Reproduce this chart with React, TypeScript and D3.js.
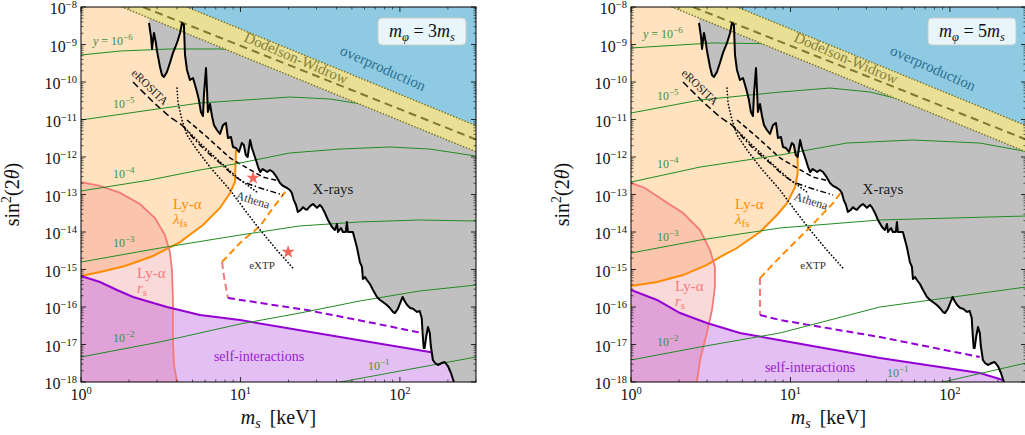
import React from "react";
import * as d3 from "d3";

type Pt = [number, number];

// ---------- axes ----------
const massRange: [number, number] = [1, 300];
const mixingRange: [number, number] = [1e-18, 1e-8];
const yTickExponents = [-8, -9, -10, -11, -12, -13, -14, -15, -16, -17, -18];
const xTickExponents = [0, 1, 2];

// ---------- shared data (m_s [keV], sin^2 2theta) ----------
const xrayBound: Pt[] = [
  [2.67, 3.74e-9], [2.75, 1.58e-9], [2.79, 7.6e-10], [2.83, 1.32e-9], [2.87, 2.03e-9], [2.95, 1.1e-9], [2.99, 7.1e-10],
  [3.13, 2.51e-10], [3.22, 1.54e-10], [3.31, 1.36e-10], [3.46, 1.85e-10], [3.61, 3.2e-10], [3.77, 5.9e-10], [4.0, 1.1e-9],
  [4.18, 2.03e-9], [4.3, 3.74e-9], [4.42, 3.31e-9], [4.49, 5.25e-10], [4.62, 2.09e-10], [4.82, 1.13e-10], [5.04, 1.28e-10],
  [5.19, 8.3e-11], [5.34, 5.4e-11], [5.49, 3.3e-11], [5.65, 1.58e-11], [5.82, 1.24e-11], [5.9, 4.5e-11], [6.08, 2.36e-10],
  [6.17, 6.1e-11], [6.25, 1.58e-11], [6.44, 2.59e-11], [6.63, 1.24e-11], [6.82, 7.1e-12], [7.12, 5.25e-12], [7.44, 4.1e-12],
  [7.77, 7.1e-12], [8.11, 8.1e-12], [8.35, 3.2e-12], [8.72, 3.4e-12], [8.98, 1.85e-12], [9.37, 1.74e-12], [9.79, 1.36e-12],
  [10.2, 2.36e-12], [10.5, 2.09e-12], [10.8, 1.13e-12], [11.1, 1.0e-12], [11.5, 2.84e-12], [11.8, 1.74e-12], [12.2, 1.13e-12],
  [12.5, 8.3e-13], [12.9, 5.4e-13], [13.3, 3.98e-13], [13.8, 4.8e-13], [14.7, 3.98e-13], [15.3, 4.5e-13], [16.0, 3.98e-13],
  [16.7, 3.1e-13], [17.7, 2.03e-13], [18.5, 1.69e-13], [19.6, 1.49e-13], [20.4, 1.32e-13], [21.0, 1.1e-13], [21.6, 7.1e-14],
  [22.3, 5.25e-14], [22.9, 3.4e-14], [23.9, 3.9e-14], [24.7, 4.6e-14], [25.4, 4.1e-14], [26.1, 3.9e-14], [27.3, 4.9e-14],
  [28.5, 5.6e-14], [30.2, 4.4e-14], [31.5, 5.25e-14], [32.4, 4.6e-14], [33.9, 3.2e-14], [35.4, 2.09e-14], [37.5, 1.36e-14],
  [39.1, 1.13e-14], [40.3, 1.63e-14], [40.9, 1.0e-14], [42.7, 1.28e-14], [43.9, 1.0e-14], [45.8, 1.0e-14], [46.5, 1.85e-14],
  [47.2, 1.0e-14], [50.7, 1.0e-14], [53.7, 3.98e-15], [56.1, 1.58e-15], [57.8, 1.17e-15], [58.6, 5.6e-16], [60.4, 6.3e-16],
  [62.1, 5.25e-16], [64.9, 4.1e-16], [67.8, 2.84e-16], [71.8, 1.85e-16], [75.0, 1.54e-16], [78.2, 1.36e-16], [82.8, 1.13e-16],
  [86.5, 9.4e-17], [90.4, 7.4e-17], [93.0, 6.9e-17], [97.1, 8.9e-17], [101, 1.36e-16], [104, 1.85e-16], [107, 1.45e-16],
  [111, 1.13e-16], [116, 9.4e-17], [121, 9.0e-17], [128, 7.4e-17], [133, 7.8e-17], [137, 5.1e-17], [139, 1.79e-17],
  [141, 8.1e-18], [143, 8.1e-18], [146, 1.58e-17], [150, 2.93e-17], [154, 2.03e-17], [156, 9.7e-18], [161, 3.86e-18],
  [166, 3.21e-18], [173, 2.84e-18], [183, 3.21e-18], [191, 3.41e-18], [200, 2.67e-18], [209, 1.74e-18], [218, 1.0e-18],
];
const dwUpper: Pt[] = [[4.62, 1e-8], [300, 6.9e-12]];
const dwCentral: Pt[] = [[2.45, 1e-8], [300, 2.93e-12]];
const dwLower: Pt[] = [[1.81, 1e-8], [300, 1.38e-12]];

const eRosita: Pt[] = [[2.12, 1e-10], [2.83, 2.93e-11], [3.61, 1.17e-11], [4.3, 7.1e-12]];
const eRositaDeep: Pt[] = [[4.62, 9.7e-12], [6.17, 3.41e-12], [8.6, 9.4e-13], [11.0, 5.1e-13], [13.8, 2.93e-13], [19.6, 2.03e-13]];
const athena: Pt[] = [[4.3, 7.1e-12], [5.19, 2.84e-12], [6.17, 1.36e-12], [7.44, 6.9e-13], [8.98, 3.31e-13], [10.4, 2.15e-13], [13.3, 1.49e-13], [18.5, 9.7e-14]];
const extp: Pt[] = [[4.0, 6.9e-11], [4.06, 2.75e-11], [4.3, 9.7e-12], [4.62, 3.86e-12], [5.34, 1.54e-12], [6.44, 5.4e-13], [8.6, 1.32e-13], [11.0, 3.21e-14], [13.3, 1.13e-14], [16.9, 3.31e-15], [21.3, 1.1e-15]];
const extpAlt: Pt[] = [[4.49, 5.9e-12], [5.57, 2.36e-12], [7.23, 8.3e-13], [9.64, 2.75e-13], [12.9, 1.1e-13]];

// ---------- left panel (m_phi = 3 m_s) ----------
const lfsLeft: Pt[] = [[1, 6.7e-16], [1.315, 8.6e-16], [1.89, 1.24e-15], [2.83, 2.29e-15], [4.18, 5.4e-15], [5.82, 1.54e-14], [7.44, 4.37e-14], [8.6, 1.1e-13], [9.24, 2.15e-13], [9.37, 1.54e-12]];
const rsLeft: Pt[] = [[1, 2.15e-13], [1.315, 1.69e-13], [1.76, 1.1e-13], [2.34, 5.58e-14], [2.91, 2.36e-14], [3.36, 8.3e-15], [3.61, 2.93e-15], [3.72, 9.7e-16], [3.77, 1.54e-16], [3.77, 1.32e-17], [3.83, 2.84e-18], [4.0, 1e-18]];
const siLeft: Pt[] = [[1, 6.7e-16], [1.315, 4.64e-16], [1.68, 2.84e-16], [2.12, 1.85e-16], [3.46, 1e-16], [5.57, 6.1e-17], [9.93, 4.5e-17], [42.1, 1.58e-17], [154, 6.3e-18], [300, 4.1e-18]];
const lfsFutureLeft: Pt[] = [[7.66, 1.58e-15], [9.93, 5.1e-15], [13.3, 1.45e-14], [15.8, 4.1e-14], [18.5, 9.7e-14], [20.4, 1.69e-13]];
const rsFutureLeft: Pt[] = [[7.66, 1.58e-15], [7.94, 5.25e-16], [8.35, 1.74e-16]];
const siFutureLeft: Pt[] = [[8.35, 1.74e-16], [13.3, 1.28e-16], [26.1, 8.3e-17], [67.8, 3.74e-17], [137, 2.03e-17]];
const benchmarkStars: Pt[] = [[12.0, 2.75e-13], [19.9, 2.93e-15]];
const yLeft6: Pt[] = [[1, 5.25e-10], [1.76, 6.7e-10], [3.61, 7.6e-10], [7.44, 7.6e-10], [8.98, 7.1e-10], [13.3, 6.3e-10], [31.5, 4.64e-10], [100, 3.0e-10], [300, 1.74e-10]];
const yLeft5: Pt[] = [[1, 9.7e-12], [2.71, 1.79e-11], [5.57, 2.75e-11], [13.3, 3.52e-11], [20.4, 3.98e-11], [36.4, 3.52e-11], [62.1, 2.44e-11], [133, 1.4e-11], [300, 6.7e-12]];
const yLeft4: Pt[] = [[1, 1.24e-13], [2.71, 2.44e-13], [5.57, 4.5e-13], [9.93, 6.9e-13], [20.4, 1.28e-12], [42.1, 1.63e-12], [86.5, 1.85e-12], [154, 1.63e-12], [300, 1.06e-12]];
const yLeft3: Pt[] = [[1, 1.58e-15], [3.13, 3.74e-15], [9.93, 8.3e-15], [23.6, 1.45e-14], [56.1, 1.85e-14], [133, 2.09e-14], [300, 1.96e-14]];
const yLeft2: Pt[] = [[1, 4.64e-18], [3.13, 1.17e-17], [9.93, 3.52e-17], [23.6, 6.9e-17], [56.1, 1.45e-16], [133, 2.67e-16], [300, 3.86e-16]];
const yLeft1: Pt[] = [[36.4, 8.85e-19], [100, 1.96e-18], [300, 4.64e-18]];

// ---------- right panel (m_phi = 5 m_s) ----------
const lfsRight: Pt[] = [[1, 3.63e-16], [1.456, 4.64e-16], [2.12, 7.1e-16], [2.99, 1.32e-15], [3.61, 2.15e-15], [4.62, 3.74e-15], [6.44, 1e-14], [8.23, 2.84e-14], [9.51, 5.9e-14], [10.7, 1.58e-13], [11.1, 3.74e-13], [11.1, 1.54e-12]];
const rsRight: Pt[] = [[1, 2.03e-13], [1.224, 1.49e-13], [1.585, 7.1e-14], [2.12, 3.21e-14], [2.71, 1.13e-14], [3.13, 3.31e-15], [3.36, 1.17e-15], [3.36, 3.41e-16], [3.22, 8.3e-17], [2.99, 2.03e-17], [2.71, 3.86e-18], [2.59, 1e-18]];
const siRight: Pt[] = [[1, 2.84e-16], [1.456, 1.54e-16], [2.03, 6.9e-17], [2.99, 3.74e-17], [4.82, 2.03e-17], [9.93, 1.17e-17], [36.4, 4.37e-18], [154, 1.74e-18], [215, 1.13e-18], [300, 8e-19]];
const lfsFutureRight: Pt[] = [[6.44, 5.9e-16], [8.6, 2.15e-15], [13.3, 1.36e-14], [18.5, 5.9e-14], [21.3, 1.32e-13]];
const rsFutureRight: Pt[] = [[6.44, 5.9e-16], [6.44, 6.1e-17]];
const siFutureRight: Pt[] = [[6.44, 6.1e-17], [8.6, 4.5e-17], [36.4, 1.58e-17], [154, 4.64e-18]];
const yRight6: Pt[] = [[1, 8.07e-10], [3.27, 1.1e-9], [9.51, 1.03e-9], [23.6, 8.07e-10], [100, 4.37e-10], [300, 2.3e-10]];
const yRight5: Pt[] = [[1, 1.49e-11], [2.71, 3.31e-11], [8.6, 5.4e-11], [17.7, 6.9e-11], [31.5, 5.4e-11], [50.7, 3.31e-11], [116, 1.79e-11], [300, 8.3e-12]];
const yRight4: Pt[] = [[1, 2.15e-13], [2.71, 5.4e-13], [8.6, 1.13e-12], [22.6, 2.36e-12], [58.6, 2.84e-12], [154, 2.36e-12], [300, 1.4e-12]];
const yRight3: Pt[] = [[1, 2.75e-15], [2.71, 6.1e-15], [8.6, 1.28e-14], [36.4, 2.09e-14], [300, 2.67e-14]];
const yRight2: Pt[] = [[1, 3.86e-18], [2.71, 8.6e-18], [8.6, 2.03e-17], [36.4, 1e-16], [300, 3.41e-16]];
const yRight1: Pt[] = [[75, 8.3e-19], [90.4, 1e-18], [300, 3.21e-18]];

const contourExponents = ["−6", "−5", "−4", "−3", "−2", "−1"];

// ---------- layout / style ----------
const SERIF = "'Liberation Serif', 'Times New Roman', serif";
const PW = 395;
const PH = 375;
const TOP = 7;

const COL = {
  peach: "#ff8c00",
  pink: "#f08080",
  pinkLine: "#f47a78",
  purple: "#9400d3",
  grey: "#c0c0c0",
  blue: "#8ecbe2",
  band: "#e9df95",
  bandLine: "#7f7a2e",
  green: "#228b22",
  greenText: "#3f913f",
  star: "#f2675a",
};

type Cfg = {
  id: string;
  x0: number;
  phi: string;
  lfs: Pt[];
  rs: Pt[];
  si: Pt[];
  lfsF: Pt[];
  rsF: Pt[];
  siF: Pt[];
  contours: Pt[][];
  stars: Pt[];
  lay: {
    contour: [number, number][];
    lfs: [number, number];
    rs: [number, number];
    si: [number, number];
    athena: [number, number];
    extp: [number, number];
  };
};

const panels: Cfg[] = [
  {
    id: "l", x0: 81, phi: "3",
    lfs: lfsLeft, rs: rsLeft, si: siLeft, lfsF: lfsFutureLeft, rsF: rsFutureLeft, siF: siFutureLeft,
    contours: [yLeft6, yLeft5, yLeft4, yLeft3, yLeft2, yLeft1], stars: benchmarkStars,
    lay: {
      contour: [[12, 38], [32, 101], [32, 171], [32, 240], [32, 335], [287, 363]],
      lfs: [92, 202], rs: [56, 271], si: [178, 354], athena: [172, 193], extp: [181, 258],
    },
  },
  {
    id: "r", x0: 631, phi: "5",
    lfs: lfsRight, rs: rsRight, si: siRight, lfsF: lfsFutureRight, rsF: rsFutureRight, siF: siFutureRight,
    contours: [yRight6, yRight5, yRight4, yRight3, yRight2, yRight1], stars: [],
    lay: {
      contour: [[12, 31], [26, 93], [26, 161], [26, 234], [26, 339], [256, 370]],
      lfs: [104, 202], rs: [44, 284], si: [179, 365], athena: [180, 194], extp: [182, 258],
    },
  },
];

function Panel({ cfg }: { cfg: Cfg }) {
  const x = d3.scaleLog().domain(massRange).range([0, PW]);
  const y = d3.scaleLog().domain(mixingRange).range([PH, 0]);
  const line = d3.line<Pt>().x((d) => x(d[0])).y((d) => y(d[1]));
  const p = (pts: Pt[]) => line(pts) || "";
  const poly = (pts: Pt[]) => (line(pts) || "") + "Z";
  const [xMin, xMax] = massRange;
  const [yMin, yMax] = mixingRange;
  const clipId = `clip-${cfg.id}`;

  const peach: Pt[] = [...cfg.lfs, [cfg.lfs[cfg.lfs.length - 1][0], yMax], [xMin, yMax]];
  const pink: Pt[] = [...cfg.rs, [xMin, yMin]];
  const purple: Pt[] = [...cfg.si, [xMax, yMin], [xMin, yMin]];
  const grey: Pt[] = [[xrayBound[0][0], yMax], ...xrayBound, [xMax, yMin], [xMax, yMax]];
  const blue: Pt[] = [...dwUpper, [xMax, yMax]];
  const band: Pt[] = [...dwUpper, ...[...dwLower].reverse()];

  const xMajor = xTickExponents.map((k) => Math.pow(10, k));
  const yMajor = yTickExponents.map((k) => Math.pow(10, k));
  const xMinor: number[] = [];
  xTickExponents.forEach((k) => {
    for (let j = 2; j <= 9; j++) {
      const v = j * Math.pow(10, k);
      if (v <= xMax) xMinor.push(v);
    }
  });
  const yMinor: number[] = [];
  yTickExponents.slice(1).forEach((k) => {
    for (let j = 2; j <= 9; j++) yMinor.push(j * Math.pow(10, k));
  });

  const greenLabel = (i: number) => {
    const [lx, ly] = cfg.lay.contour[i];
    return (
      <text key={"gl" + i} x={lx} y={ly} fontSize={12} fill={COL.greenText} fontFamily={SERIF}>
        {i === 0 ? (
          <>
            <tspan fontStyle="italic">y</tspan>
            <tspan>{" = 10"}</tspan>
          </>
        ) : (
          <tspan>10</tspan>
        )}
        <tspan dy={-5} fontSize={9}>{contourExponents[i]}</tspan>
      </text>
    );
  };

  return (
    <g transform={`translate(${cfg.x0},${TOP})`} fontFamily={SERIF}>
      <defs>
        <clipPath id={clipId}>
          <rect x={0} y={0} width={PW} height={PH} />
        </clipPath>
      </defs>
      <g clipPath={`url(#${clipId})`}>
        <rect x={0} y={0} width={PW} height={PH} fill="#ffffff" />
        <path d={poly(peach)} fill={COL.peach} fillOpacity={0.25} />
        <path d={poly(pink)} fill={COL.pink} fillOpacity={0.3} />
        <path d={poly(purple)} fill={COL.purple} fillOpacity={0.25} />
        <path d={p(cfg.lfs)} fill="none" stroke={COL.peach} strokeWidth={2} />
        <path d={p(cfg.rs)} fill="none" stroke={COL.pinkLine} strokeWidth={1.8} />
        <path d={p(cfg.si)} fill="none" stroke={COL.purple} strokeWidth={2} />
        <path d={p(cfg.lfsF)} fill="none" stroke={COL.peach} strokeWidth={2} strokeDasharray="7,4" />
        <path d={p(cfg.rsF)} fill="none" stroke={COL.pinkLine} strokeWidth={2} strokeDasharray="7,4" />
        <path d={p(cfg.siF)} fill="none" stroke={COL.purple} strokeWidth={2} strokeDasharray="7,4" />
        <path d={p(eRosita)} fill="none" stroke="#000" strokeWidth={1.5} strokeDasharray="7,3.5" />
        <path d={p(eRositaDeep)} fill="none" stroke="#000" strokeWidth={1.5} strokeDasharray="5,3" />
        <path d={p(athena)} fill="none" stroke="#000" strokeWidth={1.5} strokeDasharray="6,2.5,1.5,2.5" />
        <path d={p(extp)} fill="none" stroke="#000" strokeWidth={1.7} strokeDasharray="0.1,3.2" strokeLinecap="round" />
        <path d={p(extpAlt)} fill="none" stroke="#000" strokeWidth={1.7} strokeDasharray="0.1,3.2" strokeLinecap="round" />
        <path d={poly(grey)} fill={COL.grey} />
        {cfg.contours.map((c, i) => (
          <path key={"c" + i} d={p(c)} fill="none" stroke={COL.green} strokeWidth={1} />
        ))}
        <path d={poly(blue)} fill={COL.blue} />
        <path d={poly(band)} fill={COL.band} />
        <path d={p(dwUpper)} fill="none" stroke={COL.bandLine} strokeWidth={1.6} strokeDasharray="0.1,3" strokeLinecap="round" />
        <path d={p(dwLower)} fill="none" stroke={COL.bandLine} strokeWidth={1.6} strokeDasharray="0.1,3" strokeLinecap="round" />
        <path d={p(dwCentral)} fill="none" stroke={COL.bandLine} strokeWidth={2} strokeDasharray="8,5" />
        <path d={p(xrayBound)} fill="none" stroke="#000" strokeWidth={2} strokeLinejoin="round" />
        {cfg.stars.map((s, i) => (
          <path key={"s" + i} transform={`translate(${x(s[0])},${y(s[1])})`} d={d3.symbol(d3.symbolStar, 55)() || ""} fill={COL.star} />
        ))}
      </g>

      {/* annotations */}
      {cfg.contours.map((_, i) => greenLabel(i))}
      <text x={252} y={187} fontSize={15} textAnchor="middle" fill="#222">X-rays</text>
      <text transform="translate(302,61) rotate(24)" fontSize={15} textAnchor="middle" dominantBaseline="central" fill="#2d6f93">overproduction</text>
      <text transform="translate(215,51) rotate(23)" fontSize={15} textAnchor="middle" dominantBaseline="central" fill="#87813c">Dodelson-Widrow</text>
      <text transform="translate(69,80) rotate(44)" fontSize={11.5} textAnchor="middle" dominantBaseline="central" fill="#222">eROSITA</text>
      <text transform={`translate(${cfg.lay.athena[0]},${cfg.lay.athena[1]}) rotate(17)`} fontSize={12} textAnchor="middle" dominantBaseline="central" fill="#333">Athena</text>
      <text x={cfg.lay.extp[0]} y={cfg.lay.extp[1]} fontSize={11} textAnchor="middle" dominantBaseline="central" fill="#333">eXTP</text>
      <text x={cfg.lay.lfs[0]} y={cfg.lay.lfs[1]} fontSize={15} fill={COL.peach}>
        <tspan>Ly-α</tspan>
        <tspan x={cfg.lay.lfs[0]} dy={15} fontStyle="italic">λ</tspan>
        <tspan dy={3} fontSize={11}>fs</tspan>
      </text>
      <text x={cfg.lay.rs[0]} y={cfg.lay.rs[1]} fontSize={15} fill={COL.pinkLine}>
        <tspan>Ly-α</tspan>
        <tspan x={cfg.lay.rs[0]} dy={15} fontStyle="italic">r</tspan>
        <tspan dy={3} fontSize={11}>s</tspan>
      </text>
      <text x={cfg.lay.si[0]} y={cfg.lay.si[1]} fontSize={14} textAnchor="middle" fill="#9a1ad0">self-interactions</text>

      {/* frame & ticks */}
      <rect x={0} y={0} width={PW} height={PH} fill="none" stroke="#000" strokeWidth={1} />
      {xMajor.map((v) => (
        <g key={"xM" + v}>
          <line x1={x(v)} x2={x(v)} y1={PH} y2={PH - 5} stroke="#000" strokeWidth={0.8} />
          <line x1={x(v)} x2={x(v)} y1={0} y2={5} stroke="#000" strokeWidth={0.8} />
        </g>
      ))}
      {xMinor.map((v) => (
        <g key={"xm" + v}>
          <line x1={x(v)} x2={x(v)} y1={PH} y2={PH - 2.5} stroke="#000" strokeWidth={0.6} />
          <line x1={x(v)} x2={x(v)} y1={0} y2={2.5} stroke="#000" strokeWidth={0.6} />
        </g>
      ))}
      {yMajor.map((v) => (
        <g key={"yM" + v}>
          <line x1={0} x2={5} y1={y(v)} y2={y(v)} stroke="#000" strokeWidth={0.8} />
          <line x1={PW} x2={PW - 5} y1={y(v)} y2={y(v)} stroke="#000" strokeWidth={0.8} />
        </g>
      ))}
      {yMinor.map((v, i) => (
        <g key={"ym" + i}>
          <line x1={0} x2={2.5} y1={y(v)} y2={y(v)} stroke="#000" strokeWidth={0.6} />
          <line x1={PW} x2={PW - 2.5} y1={y(v)} y2={y(v)} stroke="#000" strokeWidth={0.6} />
        </g>
      ))}
      {yTickExponents.map((k) => (
        <text key={"yl" + k} x={-4} y={y(Math.pow(10, k)) + 7} fontSize={16} textAnchor="end" fill="#111">
          10<tspan dy={-6} fontSize={10.5}>{"−" + Math.abs(k)}</tspan>
        </text>
      ))}
      {xTickExponents.map((k) => (
        <text key={"xl" + k} x={x(Math.pow(10, k))} y={PH + 18} fontSize={16} textAnchor="middle" fill="#111">
          10<tspan dy={-6} fontSize={10.5}>{String(k)}</tspan>
        </text>
      ))}
      <text transform={`translate(-62,${PH / 2}) rotate(-90)`} fontSize={20} textAnchor="middle" fill="#111">
        <tspan>sin</tspan>
        <tspan dy={-8} fontSize={14}>2</tspan>
        <tspan dy={8}>(2</tspan>
        <tspan fontStyle="italic">θ</tspan>
        <tspan>)</tspan>
      </text>
      <text x={PW / 2} y={PH + 42} fontSize={20} textAnchor="middle" fill="#111">
        <tspan fontStyle="italic">m</tspan>
        <tspan dy={4} fontSize={14} fontStyle="italic">s</tspan>
        <tspan dy={-4} dx={9}>[keV]</tspan>
      </text>

      {/* legend box */}
      <rect x={297} y={11} width={88} height={27} rx={4} fill="#ffffff" fillOpacity={0.8} stroke="#cccccc" strokeWidth={1} />
      <text x={341} y={30} fontSize={18} textAnchor="middle" fill="#111">
        <tspan fontStyle="italic">m</tspan>
        <tspan dy={4} fontSize={12.5} fontStyle="italic">φ</tspan>
        <tspan dy={-4}>{" = " + cfg.phi}</tspan>
        <tspan fontStyle="italic">m</tspan>
        <tspan dy={4} fontSize={12.5} fontStyle="italic">s</tspan>
      </text>
    </g>
  );
}

export default function App() {
  return (
    <svg width={1025} height={435} style={{ position: "absolute", left: 0, top: 0, background: "#ffffff" }}>
      <rect x={0} y={0} width={1025} height={435} fill="#ffffff" />
      {panels.map((cfg) => (
        <Panel key={cfg.id} cfg={cfg} />
      ))}
    </svg>
  );
}
